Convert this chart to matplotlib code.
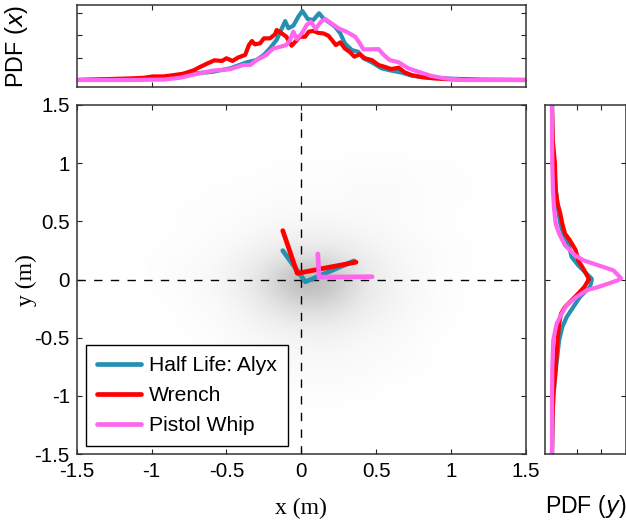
# Head/hand position density with marginal PDFs
import numpy as np
import matplotlib
matplotlib.use('Agg')
import matplotlib.pyplot as plt

plt.rcParams['font.family'] = ['Liberation Sans', 'DejaVu Sans']

W, H = 626, 523
BLUE = '#2590B0'
RED = '#FF0000'
PINK = '#FF66EE'

series_names = ['Half Life: Alyx', 'Wrench', 'Pistol Whip']
ticks_main = [-1.5, -1, -0.5, 0, 0.5, 1, 1.5]
tick_labels = ['-1.5', '-1', '-0.5', '0', '0.5', '1', '1.5']

# average pose lines in the main panel
blue_line_x = [-0.124, 0.027, 0.352]
blue_line_y = [0.248, -0.02, 0.16]
red_line_x = [-0.124, -0.027, 0.365]
red_line_y = [0.42, 0.053, 0.149]
pink_line_x = [0.11, 0.118, 0.472]
pink_line_y = [0.22, 0.02, 0.024]

# top marginal, PDF (x)
blue_x = [-1.5, -1.14, -0.92, -0.81, -0.70, -0.59, -0.475, -0.365, -0.30, -0.25, -0.21, -0.165, -0.13, -0.108, -0.086, -0.053, -0.02, 0.007, 0.043, 0.08, 0.118, 0.147, 0.18, 0.225, 0.26, 0.29, 0.336, 0.38, 0.414, 0.47, 0.536, 0.60, 0.67, 0.737, 0.85, 1.0, 1.2, 1.5]
blue_px = [0, 0.03, 0.12, 0.22, 0.30, 0.37, 0.52, 0.79, 0.89, 1.12, 1.41, 1.79, 2.31, 2.63, 2.31, 2.43, 2.83, 3.08, 2.72, 2.68, 2.98, 2.75, 2.60, 2.38, 2.08, 1.64, 1.34, 1.26, 0.97, 0.79, 0.52, 0.42, 0.33, 0.19, 0.10, 0.06, 0.01, 0]
red_x = [-1.5, -1.14, -1.05, -0.99, -0.92, -0.85, -0.79, -0.72, -0.68, -0.63, -0.58, -0.53, -0.50, -0.46, -0.42, -0.375, -0.35, -0.33, -0.31, -0.275, -0.25, -0.21, -0.175, -0.165, -0.13, -0.10, -0.065, -0.04, -0.01, 0.025, 0.05, 0.08, 0.114, 0.147, 0.18, 0.20, 0.23, 0.26, 0.29, 0.325, 0.354, 0.39, 0.425, 0.47, 0.515, 0.56, 0.60, 0.65, 0.69, 0.737, 0.80, 0.89, 1.0, 1.2, 1.5]
red_px = [0, 0.07, 0.10, 0.16, 0.16, 0.22, 0.28, 0.43, 0.57, 0.73, 0.88, 0.85, 0.97, 0.85, 1.01, 1.12, 1.56, 1.74, 1.59, 1.64, 1.86, 1.86, 2.04, 2.23, 2.08, 1.93, 1.53, 1.71, 1.93, 1.93, 2.16, 2.19, 2.10, 2.08, 1.98, 1.82, 1.56, 1.68, 1.41, 1.24, 1.04, 1.15, 0.97, 0.89, 0.67, 0.58, 0.49, 0.55, 0.34, 0.22, 0.13, 0.07, 0.03, 0.01, 0]
pink_x = [-1.5, -1.14, -0.92, -0.81, -0.70, -0.59, -0.475, -0.387, -0.34, -0.30, -0.24, -0.186, -0.165, -0.10, -0.075, -0.053, -0.03, 0.003, 0.036, 0.063, 0.096, 0.13, 0.16, 0.20, 0.25, 0.30, 0.36, 0.39, 0.414, 0.46, 0.515, 0.55, 0.59, 0.65, 0.715, 0.78, 0.87, 0.96, 1.09, 1.5]
pink_px = [0, 0, 0.02, 0.10, 0.27, 0.42, 0.48, 0.67, 0.67, 0.89, 1.09, 1.41, 1.44, 1.56, 1.79, 2.16, 1.82, 2.08, 2.46, 2.60, 2.28, 2.60, 2.72, 2.53, 2.30, 2.16, 1.93, 1.64, 1.37, 1.37, 1.38, 1.12, 0.89, 0.79, 0.52, 0.37, 0.18, 0.07, 0, 0]

# right marginal, PDF (y)
blue_y = [1.5, 1.2, 1.0, 0.767, 0.623, 0.48, 0.394, 0.308, 0.194, 0.122, 0.05, 0.007, -0.007, -0.064, -0.15, -0.236, -0.322, -0.408, -0.523, -0.766, -1.0, -1.2, -1.5]
blue_py = [0, 0.02, 0.07, 0.16, 0.23, 0.34, 0.46, 0.67, 0.80, 1.07, 1.41, 1.62, 1.62, 1.55, 1.14, 0.87, 0.60, 0.42, 0.29, 0.16, 0.06, 0.02, 0]
red_y = [1.5, 1.2, 1.0, 0.767, 0.652, 0.566, 0.48, 0.394, 0.337, 0.251, 0.165, 0.093, 0.002, -0.007, -0.064, -0.121, -0.179, -0.236, -0.293, -0.379, -0.523, -0.766, -1.0, -1.2, -1.5]
red_py = [0, 0.03, 0.12, 0.15, 0.23, 0.34, 0.42, 0.53, 0.73, 0.97, 1.07, 1.28, 1.51, 1.48, 1.32, 1.07, 0.80, 0.53, 0.37, 0.29, 0.23, 0.15, 0.05, 0.02, 0]
pink_y = [1.5, 1.2, 1.0, 0.767, 0.62, 0.48, 0.394, 0.294, 0.208, 0.165, 0.122, 0.079, 0.05, 0.01, -0.007, -0.035, -0.064, -0.093, -0.15, -0.22, -0.293, -0.379, -0.523, -0.766, -1.0, -1.5]
pink_py = [0, 0, 0.01, 0.04, 0.08, 0.15, 0.29, 0.53, 0.94, 1.28, 1.89, 2.50, 2.64, 2.82, 2.68, 2.30, 1.89, 1.41, 1.00, 0.60, 0.40, 0.19, 0.05, 0.01, 0, 0]

# gray haze, percent darkness read on a 0.2 m grid (top row y=1.4, left column x=-1.4)
haze = [
    [0, 0, 0, 0, 0, 0, 0, 0, 0, 0, 0, 0, 0, 0, 0],
    [0, 0, 0, 0, 0, 0, 0, 0, 0, 0, 0, 0, 0, 0, 0],
    [0, 0, 0, 0, 0, 0, 1, 1, 1, 1, 1, 1, 1, 0, 0],
    [0, 0, 0, 0, 1, 1, 1, 1, 1, 2, 2, 1, 1, 1, 0],
    [0, 0, 0, 1, 1, 1, 2, 2, 2, 2, 2, 1, 1, 0, 0],
    [0, 0, 0, 1, 1, 2, 4, 5, 5, 4, 2, 1, 1, 0, 0],
    [0, 0, 1, 1, 2, 5, 8, 11, 11, 7, 4, 2, 1, 1, 0],
    [0, 0, 1, 2, 3, 7, 16, 34, 28, 10, 5, 2, 1, 0, 0],
    [0, 0, 0, 1, 2, 5, 11, 18, 16, 8, 5, 2, 1, 0, 0],
    [0, 0, 0, 1, 1, 3, 5, 7, 7, 5, 3, 1, 1, 0, 0],
    [0, 0, 0, 0, 1, 2, 3, 3, 4, 2, 2, 1, 0, 0, 0],
    [0, 0, 0, 0, 0, 1, 2, 2, 2, 2, 1, 1, 0, 0, 0],
    [0, 0, 0, 0, 0, 1, 1, 1, 1, 1, 0, 0, 0, 0, 0],
    [0, 0, 0, 0, 0, 0, 0, 0, 0, 0, 0, 0, 0, 0, 0],
    [0, 0, 0, 0, 0, 0, 0, 0, 0, 0, 0, 0, 0, 0, 0],
]


def box(left, top, right, bottom):
    # pixel box to figure fractions
    return [left / W, 1 - bottom / H, (right - left) / W, (bottom - top) / H]


def style(ax):
    for s in ax.spines.values():
        s.set_linewidth(1.1)
        s.set_color('#333333')
    ax.tick_params(direction='in', length=3.6, width=0.8, top=True, right=True,
                   labelsize=14.8, color='#222222')


fig = plt.figure(figsize=(W / 100, H / 100), dpi=100)
ax = fig.add_axes(box(76.7, 105, 526, 454))
ax_top = fig.add_axes(box(76.7, 5.3, 526, 87.3))
ax_right = fig.add_axes(box(545, 105, 626, 454))

# main panel
ax.imshow(np.array(haze) / 100, cmap='gray_r', vmin=0, vmax=1, extent=[-1.5, 1.5, -1.5, 1.5],
          interpolation='bicubic', aspect='auto')
ax.axhline(0, color='k', lw=1.0, dashes=(6, 6))
ax.axvline(0, color='k', lw=1.0, dashes=(6, 6))
lw = 3.4
ax.plot(blue_line_x, blue_line_y, color=BLUE, lw=lw, label=series_names[0], solid_capstyle='round')
ax.plot(red_line_x, red_line_y, color=RED, lw=lw, label=series_names[1], solid_capstyle='round')
ax.plot(pink_line_x, pink_line_y, color=PINK, lw=lw, label=series_names[2], solid_capstyle='round')
ax.set_xlim(-1.5, 1.5)
ax.set_ylim(-1.5, 1.5)
ax.set_xticks(ticks_main, tick_labels)
ax.set_yticks(ticks_main, tick_labels)
style(ax)
ax.tick_params(axis='x', pad=6)
ax.tick_params(axis='y', pad=5)

leg = ax.legend(loc='lower left', bbox_to_anchor=((86 - 76.7) / 449.3, (454 - 446.3) / 349),
                fontsize=15.2, frameon=True, fancybox=False, framealpha=1, edgecolor='k',
                borderaxespad=0, handlelength=2.1, handletextpad=0.38, labelspacing=0.52,
                borderpad=0.52)
leg.get_frame().set_linewidth(1.0)

# top marginal
ax_top.plot(blue_x, blue_px, color=BLUE, lw=3.0)
ax_top.plot(red_x, red_px, color=RED, lw=3.0)
ax_top.plot(pink_x, pink_px, color=PINK, lw=3.0)
ax_top.set_xlim(-1.5, 1.5)
ax_top.set_ylim(-0.326, 3.335)
ax_top.set_xticks([-1, 0, 1])
ax_top.set_yticks([0, 1, 2, 3])
style(ax_top)
ax_top.tick_params(labelbottom=False, labelleft=False)

# right marginal
ax_right.plot(blue_py, blue_y, color=BLUE, lw=3.0)
ax_right.plot(red_py, red_y, color=RED, lw=3.0)
ax_right.plot(pink_py, pink_y, color=PINK, lw=3.0)
ax_right.set_xlim(-0.286, 3.02)
ax_right.set_ylim(-1.5, 1.5)
ax_right.set_xticks([0, 1, 2, 3])
ax_right.set_yticks([-1, 0, 1])
style(ax_right)
ax_right.tick_params(labelbottom=False, labelleft=False)

# axis titles
fig.text(301 / W, 1 - 508 / H, 'x (m)', family='Liberation Serif', fontsize=17, ha='center', va='center')
fig.text(26 / W, 1 - 280 / H, 'y (m)', family='Liberation Serif', fontsize=17, rotation=90, ha='center', va='center')
fig.text(17 / W, 1 - 46 / H, 'PDF ($\\mathit{x}$)', fontsize=16.8, rotation=90, ha='center', va='center')
fig.text(586 / W, 1 - 507 / H, 'PDF ($\\mathit{y}$)', fontsize=16.6, ha='center', va='center')

fig.savefig('out.png', dpi=100)
